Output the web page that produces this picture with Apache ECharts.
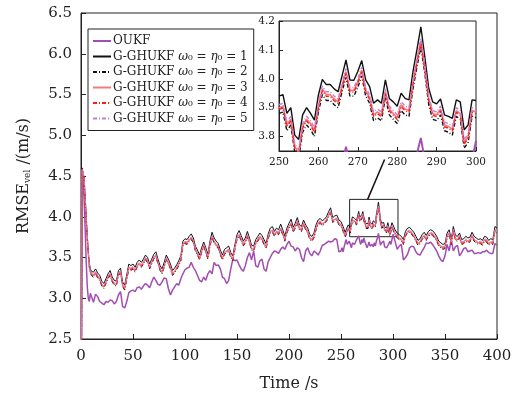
<!DOCTYPE html>
<html><head><meta charset="utf-8">
<script src="https://cdn.jsdelivr.net/npm/echarts@6/dist/echarts.min.js"></script>
<style>html,body{margin:0;padding:0;background:#fff}#c{width:521px;height:403px}</style>
</head><body><div id="c"></div>
<script>
const FONT = "'DejaVu Serif', 'Liberation Serif', serif";
const names = ['OUKF', 'G-GHUKF ω₀ = η₀ = 1', 'G-GHUKF ω₀ = η₀ = 2', 'G-GHUKF ω₀ = η₀ = 3', 'G-GHUKF ω₀ = η₀ = 4', 'G-GHUKF ω₀ = η₀ = 5'];

// time grids: A = 0..10 (1 s) then 12..248 (2 s); B = 250..300 (1 s, zoomed window); C = 302..400 (2 s)
const tA = []; for (let t = 0; t <= 10; t++) tA.push(t); for (let t = 12; t <= 248; t += 2) tA.push(t);
const tB = []; for (let t = 250; t <= 300; t++) tB.push(t);
const tC = []; for (let t = 302; t <= 400; t += 2) tC.push(t);

// ---- OUKF ----
const oukfA = [0,4.55,4.45,4.20,3.85,3.45,3.15,3.00,2.96,3.06,3.08,
2.95,3.05,3.02,2.96,2.94,2.92,2.96,2.95,2.98,2.97,2.93,2.96,3.04,3.08,2.90,2.88,2.96,3.07,3.09,
3.10,3.08,3.13,3.14,3.11,3.15,3.18,3.16,3.13,3.20,3.26,3.22,3.17,3.16,3.20,3.25,3.24,3.12,3.04,3.10,3.14,3.18,3.16,3.24,3.30,
3.35,3.37,3.38,3.44,3.38,3.34,3.28,3.22,3.20,3.26,3.22,3.30,3.34,3.30,3.44,3.40,3.41,3.36,3.26,3.24,3.18,3.22,3.36,3.48,3.46,
3.47,3.41,3.36,3.33,3.40,3.50,3.56,3.47,3.58,3.40,3.38,3.46,3.48,3.36,3.33,3.45,3.50,3.55,3.58,3.57,3.55,3.60,3.63,3.60,3.66,
3.70,3.64,3.63,3.58,3.62,3.60,3.50,3.45,3.58,3.62,3.55,3.52,3.58,3.56,3.53,3.58,3.65,3.66,3.68,3.70,3.69,3.70,3.73,3.72,3.57];
const oukfB = [3.58,3.62,3.57,3.63,3.68,3.72,3.66,3.64,3.70,3.66,3.62,3.68,3.70,3.66,3.69,3.72,3.70,3.765,3.70,3.66,3.72,3.68,3.74,3.69,3.66,3.62,3.65,3.69,3.64,3.62,3.66,3.63,3.68,3.64,3.70,3.74,3.795,3.72,3.65,3.68,3.66,3.70,3.63,3.65,3.62,3.64,3.67,3.70,3.66,3.72,3.785];
const oukfC = [3.70,3.60,3.64,3.66,3.47,3.50,3.54,3.62,3.64,3.63,3.57,3.54,3.53,3.58,3.62,3.68,3.67,3.69,3.66,3.62,3.58,3.52,3.47,3.45,3.52,3.66,3.58,3.72,3.58,3.63,3.65,3.52,3.56,3.61,3.62,3.57,3.58,3.59,3.55,3.55,3.56,3.55,3.57,3.57,3.59,3.56,3.55,3.55,3.67,3.65];

// ---- G-GHUKF w0 = n0 = 1 (black solid) ----
const g1A = [0,4.60,4.58,4.48,4.25,4.01,3.78,3.58,3.43,3.36,3.33,
3.32,3.36,3.31,3.28,3.21,3.18,3.24,3.30,3.34,3.26,3.22,3.21,3.34,3.37,3.20,3.16,3.29,3.42,3.40,
3.42,3.38,3.44,3.47,3.44,3.48,3.53,3.50,3.42,3.48,3.54,3.57,3.48,3.40,3.36,3.44,3.53,3.48,3.42,3.34,3.37,3.41,3.46,3.52,3.70,
3.73,3.72,3.76,3.79,3.74,3.64,3.59,3.53,3.62,3.69,3.62,3.54,3.70,3.81,3.74,3.70,3.67,3.59,3.53,3.60,3.62,3.64,3.56,3.52,3.66,
3.78,3.83,3.77,3.70,3.74,3.82,3.74,3.65,3.64,3.72,3.76,3.80,3.77,3.72,3.67,3.79,3.86,3.88,3.82,3.86,3.84,3.91,3.84,3.76,3.86,
3.92,3.97,3.87,3.92,3.99,3.90,3.88,3.96,3.90,3.86,3.78,3.76,3.80,3.90,3.96,3.98,3.95,3.97,4.00,4.06,4.11,3.99,4.01,4.02,3.96];
const g1B = [3.940,3.945,3.880,3.900,3.805,3.790,3.875,3.900,3.880,3.857,3.944,3.998,3.980,3.980,3.965,3.955,4.010,4.065,3.996,3.995,4.025,4.063,3.996,3.973,3.915,3.927,3.915,3.996,3.932,3.920,3.905,3.950,3.932,3.927,4.025,4.100,4.180,4.077,3.967,3.920,3.913,3.930,3.875,3.870,3.863,3.927,3.920,3.823,3.840,3.927,3.925];
const g1C = [3.84,3.80,3.78,3.76,3.72,3.82,3.86,3.87,3.84,3.81,3.76,3.71,3.73,3.78,3.81,3.77,3.82,3.84,3.83,3.80,3.76,3.70,3.68,3.66,3.67,3.80,3.84,3.72,3.88,3.77,3.76,3.80,3.72,3.73,3.76,3.74,3.75,3.81,3.76,3.74,3.72,3.73,3.71,3.76,3.75,3.71,3.73,3.72,3.88,3.86];

// ---- G-GHUKF = 2 (black dash-dot) ----
const g2A = [0,4.57,4.53,4.43,4.20,3.96,3.73,3.53,3.38,3.31,3.28,
3.26,3.30,3.25,3.22,3.15,3.12,3.18,3.24,3.28,3.20,3.16,3.15,3.28,3.31,3.14,3.10,3.23,3.36,3.34,
3.36,3.32,3.38,3.41,3.38,3.42,3.47,3.44,3.36,3.42,3.48,3.51,3.42,3.34,3.30,3.38,3.47,3.42,3.36,3.28,3.31,3.35,3.40,3.46,3.64,
3.67,3.66,3.70,3.72,3.68,3.58,3.53,3.47,3.56,3.63,3.56,3.48,3.64,3.74,3.68,3.64,3.61,3.53,3.47,3.54,3.56,3.58,3.50,3.46,3.60,
3.72,3.76,3.71,3.64,3.68,3.75,3.68,3.59,3.58,3.66,3.70,3.74,3.71,3.66,3.61,3.73,3.80,3.81,3.76,3.80,3.78,3.84,3.78,3.70,3.80,
3.86,3.90,3.81,3.86,3.92,3.84,3.82,3.90,3.84,3.80,3.72,3.70,3.74,3.84,3.90,3.92,3.89,3.91,3.94,4.00,4.04,3.93,3.95,3.96,3.90];
const g2B = [3.880,3.885,3.820,3.840,3.745,3.725,3.815,3.840,3.825,3.800,3.885,3.945,3.925,3.925,3.910,3.900,3.955,4.005,3.940,3.940,3.970,4.010,3.940,3.915,3.855,3.865,3.855,3.935,3.875,3.860,3.845,3.890,3.875,3.870,3.965,4.040,4.110,4.020,3.910,3.860,3.855,3.875,3.820,3.815,3.805,3.870,3.860,3.760,3.780,3.870,3.865];
const g2C = [3.78,3.74,3.72,3.70,3.66,3.76,3.80,3.81,3.78,3.75,3.70,3.65,3.67,3.72,3.75,3.71,3.76,3.78,3.77,3.74,3.70,3.64,3.62,3.60,3.61,3.74,3.78,3.66,3.82,3.71,3.70,3.74,3.66,3.67,3.70,3.68,3.69,3.75,3.70,3.68,3.66,3.67,3.65,3.70,3.69,3.65,3.67,3.66,3.82,3.80];

// ---- G-GHUKF = 3 (salmon solid) ----
const g3A = [0,4.58,4.55,4.45,4.22,3.98,3.75,3.55,3.40,3.33,3.30,
3.28,3.32,3.27,3.24,3.17,3.14,3.20,3.26,3.30,3.22,3.18,3.17,3.30,3.33,3.16,3.12,3.25,3.38,3.36,
3.38,3.34,3.40,3.43,3.40,3.44,3.49,3.46,3.38,3.44,3.50,3.53,3.44,3.36,3.32,3.40,3.49,3.44,3.38,3.30,3.33,3.37,3.42,3.48,3.66,
3.69,3.68,3.72,3.74,3.70,3.60,3.55,3.49,3.58,3.65,3.58,3.50,3.66,3.76,3.70,3.66,3.63,3.55,3.49,3.56,3.58,3.60,3.52,3.48,3.62,
3.74,3.78,3.73,3.66,3.70,3.77,3.70,3.61,3.60,3.68,3.72,3.76,3.73,3.68,3.63,3.75,3.82,3.83,3.78,3.82,3.80,3.86,3.80,3.72,3.82,
3.88,3.92,3.83,3.88,3.94,3.86,3.84,3.92,3.86,3.82,3.74,3.72,3.76,3.86,3.92,3.94,3.91,3.93,3.96,4.02,4.06,3.95,3.97,3.98,3.92];
const g3B = [3.900,3.905,3.840,3.860,3.765,3.745,3.835,3.860,3.845,3.820,3.905,3.965,3.945,3.945,3.930,3.920,3.975,4.025,3.960,3.960,3.990,4.030,3.960,3.935,3.875,3.885,3.875,3.955,3.895,3.880,3.865,3.910,3.895,3.890,3.985,4.060,4.130,4.040,3.930,3.880,3.875,3.895,3.840,3.835,3.825,3.890,3.880,3.780,3.800,3.890,3.885];
const g3C = [3.80,3.76,3.74,3.72,3.68,3.78,3.82,3.83,3.80,3.77,3.72,3.67,3.69,3.74,3.77,3.73,3.78,3.80,3.79,3.76,3.72,3.66,3.64,3.62,3.63,3.76,3.80,3.68,3.84,3.73,3.72,3.76,3.68,3.69,3.72,3.70,3.71,3.77,3.72,3.70,3.68,3.69,3.67,3.72,3.71,3.67,3.69,3.68,3.84,3.82];

// ---- G-GHUKF = 4 (red dash-dot) ----
const g4A = [0,4.58,4.54,4.44,4.21,3.97,3.74,3.54,3.39,3.32,3.29,
3.27,3.31,3.26,3.23,3.16,3.13,3.19,3.25,3.29,3.21,3.17,3.16,3.29,3.32,3.15,3.11,3.24,3.37,3.35,
3.37,3.33,3.39,3.42,3.39,3.43,3.48,3.45,3.37,3.43,3.49,3.52,3.43,3.35,3.31,3.39,3.48,3.43,3.37,3.29,3.32,3.36,3.41,3.47,3.65,
3.68,3.67,3.71,3.73,3.69,3.59,3.54,3.48,3.57,3.64,3.57,3.49,3.65,3.75,3.69,3.65,3.62,3.54,3.48,3.55,3.57,3.59,3.51,3.47,3.61,
3.73,3.77,3.72,3.65,3.69,3.76,3.69,3.60,3.59,3.67,3.71,3.75,3.72,3.67,3.62,3.74,3.81,3.82,3.77,3.81,3.79,3.85,3.79,3.71,3.81,
3.87,3.91,3.82,3.87,3.93,3.85,3.83,3.91,3.85,3.81,3.73,3.71,3.75,3.85,3.91,3.93,3.90,3.92,3.95,4.01,4.05,3.94,3.96,3.97,3.91];
const g4B = [3.894,3.899,3.834,3.854,3.759,3.739,3.829,3.854,3.839,3.814,3.899,3.959,3.939,3.939,3.924,3.914,3.969,4.019,3.954,3.954,3.984,4.024,3.954,3.929,3.869,3.879,3.869,3.949,3.889,3.874,3.859,3.904,3.889,3.884,3.979,4.054,4.124,4.034,3.924,3.874,3.869,3.889,3.834,3.829,3.819,3.884,3.874,3.774,3.794,3.884,3.879];
const g4C = [3.79,3.75,3.73,3.71,3.67,3.77,3.81,3.82,3.79,3.76,3.71,3.66,3.68,3.73,3.76,3.72,3.77,3.79,3.78,3.75,3.71,3.65,3.63,3.61,3.62,3.75,3.79,3.67,3.83,3.72,3.71,3.75,3.67,3.68,3.71,3.69,3.70,3.76,3.71,3.69,3.67,3.68,3.66,3.71,3.70,3.66,3.68,3.67,3.83,3.81];

// ---- G-GHUKF = 5 (purple dash-dot) ----
const g5A = [0,4.59,4.56,4.46,4.23,3.99,3.76,3.56,3.41,3.34,3.31,
3.29,3.33,3.28,3.25,3.18,3.15,3.21,3.27,3.31,3.23,3.19,3.18,3.31,3.34,3.17,3.13,3.26,3.39,3.37,
3.39,3.35,3.41,3.44,3.41,3.45,3.50,3.47,3.39,3.45,3.51,3.54,3.45,3.37,3.33,3.41,3.50,3.45,3.39,3.31,3.34,3.38,3.43,3.49,3.67,
3.70,3.69,3.73,3.75,3.71,3.61,3.56,3.50,3.59,3.66,3.59,3.51,3.67,3.77,3.71,3.67,3.64,3.56,3.50,3.57,3.59,3.61,3.53,3.49,3.63,
3.75,3.79,3.74,3.67,3.71,3.78,3.71,3.62,3.61,3.69,3.73,3.77,3.74,3.69,3.64,3.76,3.83,3.84,3.79,3.83,3.81,3.87,3.81,3.73,3.83,
3.89,3.93,3.84,3.89,3.95,3.87,3.85,3.93,3.87,3.83,3.75,3.73,3.77,3.87,3.93,3.95,3.92,3.94,3.97,4.03,4.07,3.96,3.98,3.99,3.93];
const g5B = [3.910,3.915,3.850,3.870,3.775,3.755,3.845,3.870,3.855,3.830,3.915,3.975,3.955,3.955,3.940,3.930,3.985,4.035,3.970,3.970,4.000,4.040,3.970,3.945,3.885,3.895,3.885,3.965,3.905,3.890,3.875,3.920,3.905,3.900,3.995,4.070,4.140,4.050,3.940,3.890,3.885,3.905,3.850,3.845,3.835,3.900,3.890,3.790,3.810,3.900,3.895];
const g5C = [3.81,3.77,3.75,3.73,3.69,3.79,3.83,3.84,3.81,3.78,3.73,3.68,3.70,3.75,3.78,3.74,3.79,3.81,3.80,3.77,3.73,3.67,3.65,3.63,3.64,3.77,3.81,3.69,3.85,3.74,3.73,3.77,3.69,3.70,3.73,3.71,3.72,3.78,3.73,3.71,3.69,3.70,3.68,3.73,3.72,3.68,3.70,3.69,3.85,3.83];

// zoom box and arrow annotation (data coordinates of main axes)
const zoomBox = [[258.3, 4.213], [304.8, 3.755]];
const arrowFrom = [275.6, 4.213], arrowTo = [291.9, 4.703];

const pairs = (ts, vs) => ts.map((t, i) => [t, vs[i]]);
const full = (a, b, c) => [...pairs(tA, a), ...pairs(tB, b), ...pairs(tC, c)];

const styles = [
  {color: '#a24db3', width: 1.5, type: 'solid'},
  {color: '#111111', width: 1, type: 'solid'},
  {color: '#111111', width: 1, type: [4, 2, 1, 2]},
  {color: '#f27b7b', width: 1.2, type: 'solid'},
  {color: '#ff1a1a', width: 1, type: [4, 2, 1, 2]},
  {color: '#c27fd4', width: 1, type: [4, 2, 1, 2]}
];
const mainData = [full(oukfA, oukfB, oukfC), full(g1A, g1B, g1C), full(g2A, g2B, g2C), full(g3A, g3B, g3C), full(g4A, g4B, g4C), full(g5A, g5B, g5C)];
const insetData = [pairs(tB, oukfB), pairs(tB, g1B), pairs(tB, g2B), pairs(tB, g3B), pairs(tB, g4B), pairs(tB, g5B)];

const series = [];
names.forEach((n, i) => {
  const s = {
    name: n, type: 'line', xAxisIndex: 0, yAxisIndex: 0, data: mainData[i],
    symbol: 'none', showSymbol: false, silent: true, animation: false,
    lineStyle: Object.assign({}, styles[i]), itemStyle: {color: styles[i].color},
    emphasis: {disabled: true}
  };
  if (i === 0) {
    s.markArea = {silent: true, label: {show: false},
      itemStyle: {color: 'rgba(0,0,0,0)', borderColor: '#222', borderWidth: 1},
      data: [[{coord: zoomBox[0]}, {coord: zoomBox[1]}]]};
    s.markLine = {silent: true, symbol: ['none', 'arrow'], symbolSize: [0, 13], label: {show: false},
      lineStyle: {color: '#111', width: 1.5, type: 'solid'}, animation: false,
      data: [[{coord: arrowFrom}, {coord: arrowTo}]]};
  }
  series.push(s);
});
names.forEach((n, i) => {
  series.push({
    name: n, type: 'line', xAxisIndex: 1, yAxisIndex: 1, data: insetData[i],
    symbol: 'none', showSymbol: false, silent: true, animation: false, clip: true,
    lineStyle: Object.assign({}, styles[i], {width: styles[i].width + 0.4}), itemStyle: {color: styles[i].color},
    emphasis: {disabled: true}
  });
});

const axisCommon = {
  axisLine: {lineStyle: {color: '#222', width: 1}},
  splitLine: {show: false}
};

const option = {
  animation: false,
  backgroundColor: '#fff',
  textStyle: {fontFamily: FONT},
  grid: [
    {left: 81, top: 13, width: 416, height: 326, show: true, borderColor: '#222', borderWidth: 1, backgroundColor: 'transparent'},
    {left: 279, top: 21, width: 197, height: 130, show: true, borderColor: '#222', borderWidth: 1, backgroundColor: '#fff'}
  ],
  legend: {
    data: names, orient: 'vertical', left: 88, top: 29,
    itemWidth: 18, itemHeight: 10, itemGap: 3.5,
    padding: [6, 6, 6, 4],
    backgroundColor: '#fff', borderColor: '#222', borderWidth: 1,
    itemStyle: {opacity: 0},
    formatter: n => n.replace('ω', '{i|ω}').replace('η', '{i|η}'),
    textStyle: {fontFamily: FONT, fontSize: 12, color: '#222', padding: [0, 0, 0, -3],
      rich: {i: {fontFamily: FONT, fontSize: 12, fontStyle: 'italic', color: '#222'}}},
    selectedMode: false
  },
  xAxis: [
    Object.assign({}, axisCommon, {type: 'value', gridIndex: 0, min: 0, max: 400, interval: 50,
      axisTick: {inside: true, length: 5, lineStyle: {color: '#222'}},
      axisLabel: {color: '#222', fontSize: 15, fontFamily: FONT, margin: 10},
      name: 'Time /s', nameLocation: 'middle', nameGap: 37,
      nameTextStyle: {color: '#222', fontSize: 16, fontFamily: FONT}}),
    Object.assign({}, axisCommon, {type: 'value', gridIndex: 1, min: 250, max: 300, interval: 10,
      axisTick: {inside: true, length: 4, lineStyle: {color: '#222'}},
      axisLabel: {color: '#222', fontSize: 10.5, fontFamily: FONT, margin: 6}})
  ],
  yAxis: [
    Object.assign({}, axisCommon, {type: 'value', gridIndex: 0, min: 2.5, max: 6.5, interval: 0.5,
      axisTick: {inside: true, length: 5, lineStyle: {color: '#222'}},
      axisLabel: {color: '#222', fontSize: 15, fontFamily: FONT, margin: 9, formatter: v => v.toFixed(1)},
      name: 'RMSE{s|vel} /(m/s)', nameLocation: 'middle', nameGap: 49,
      nameTextStyle: {color: '#222', fontSize: 16, fontFamily: FONT,
        rich: {s: {fontSize: 9, fontFamily: FONT, color: '#222', verticalAlign: 'bottom', padding: [6, 0, 0, 0]}}}}),
    Object.assign({}, axisCommon, {type: 'value', gridIndex: 1, min: 3.75, max: 4.2, splitNumber: 5,
      axisTick: {inside: true, length: 4, lineStyle: {color: '#222'}},
      axisLabel: {color: '#222', fontSize: 10.5, fontFamily: FONT, margin: 4, showMinLabel: false, formatter: v => v.toFixed(1)}})
  ],
  series: series
};

const chart = echarts.init(document.getElementById('c'), null, {renderer: 'canvas'});
chart.setOption(option);
</script>
</body></html>
